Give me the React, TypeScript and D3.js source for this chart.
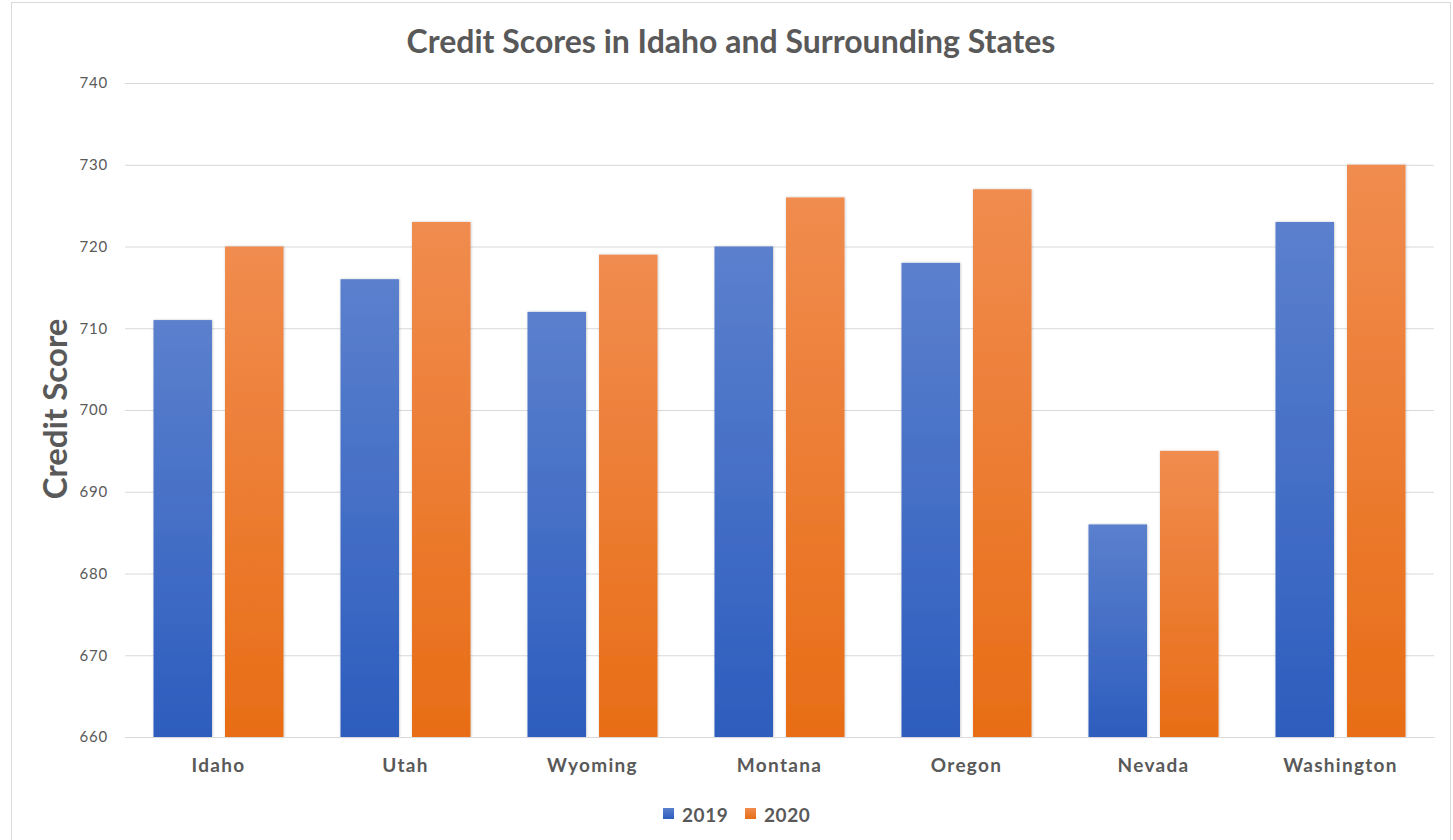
import { useRef, useEffect } from "react";
import { select, scaleBand, scaleLinear, axisLeft, axisBottom } from "d3";

const states = ["Idaho", "Utah", "Wyoming", "Montana", "Oregon", "Nevada", "Washington"];
const years = ["2019", "2020"];
const scores2019 = [711, 716, 712, 720, 718, 686, 723];
const scores2020 = [720, 723, 719, 726, 727, 695, 730];
const yTicks = [660, 670, 680, 690, 700, 710, 720, 730, 740];
const colors = [
  { top: "#5b80cd", bottom: "#2d5dbe" },
  { top: "#f08c4f", bottom: "#e86d16" },
];

const W = 1453;
const H = 840;
const left = 125;
const right = 1434;
const top = 83;
const bottom = 737;
const FONT = "Lato, 'Open Sans', sans-serif";

export default function App() {
  const svgRef = useRef<SVGSVGElement>(null);

  useEffect(() => {
    const svg = select(svgRef.current);
    svg.selectAll("*").remove();

    const x0 = scaleBand().domain(states).range([left, right]).padding(0);
    const groupW = 130;
    const x1 = scaleBand()
      .domain(years)
      .range([0, groupW])
      .paddingInner(0.182)
      .paddingOuter(0);
    const y = scaleLinear().domain([660, 740]).range([bottom, top]);

    const defs = svg.append("defs");
    colors.forEach((c, i) => {
      const g = defs
        .append("linearGradient")
        .attr("id", "grad" + i)
        .attr("x1", 0)
        .attr("y1", 0)
        .attr("x2", 0)
        .attr("y2", 1);
      g.append("stop").attr("offset", "0%").attr("stop-color", c.top);
      g.append("stop").attr("offset", "100%").attr("stop-color", c.bottom);
    });
    const f = defs.append("filter").attr("id", "shadow").attr("x", "-20%").attr("width", "140%");
    f.append("feDropShadow")
      .attr("dx", 0.5)
      .attr("dy", 0)
      .attr("stdDeviation", 1.2)
      .attr("flood-color", "#000")
      .attr("flood-opacity", 0.25);

    // chart frame
    svg
      .append("rect")
      .attr("x", 11.5)
      .attr("y", 2.5)
      .attr("width", 1439)
      .attr("height", 850)
      .attr("fill", "#fff")
      .attr("stroke", "#d9d9d9");

    // gridlines + y axis labels
    const yAxis = axisLeft(y)
      .tickValues(yTicks)
      .tickSize(-(right - left))
      .tickPadding(17);
    const gy = svg.append("g").attr("transform", `translate(${left},0)`).call(yAxis);
    gy.select(".domain").remove();
    gy.selectAll(".tick line").attr("stroke", "#d9d9d9").attr("stroke-width", 1);
    gy.selectAll(".tick text")
      .attr("fill", "#595959")
      .style("font-family", FONT)
      .style("font-size", "15px")
      .style("letter-spacing", "0.8px");

    // bars
    const series = [scores2019, scores2020];
    const offset = (x0.bandwidth() - groupW) / 2;
    series.forEach((vals, si) => {
      svg
        .append("g")
        .selectAll("rect")
        .data(vals)
        .join("rect")
        .attr("x", (d, i) => (x0(states[i]) as number) + offset + (x1(years[si]) as number))
        .attr("y", (d) => y(d))
        .attr("width", x1.bandwidth())
        .attr("height", (d) => bottom - y(d))
        .attr("fill", `url(#grad${si})`)
        .attr("filter", "url(#shadow)");
    });

    // x axis labels
    const xAxis = axisBottom(x0).tickSize(0).tickPadding(22);
    const gx = svg.append("g").attr("transform", `translate(0,${bottom})`).call(xAxis);
    gx.select(".domain").attr("stroke", "#d9d9d9");
    gx.selectAll(".tick text")
      .attr("fill", "#595959")
      .style("font-family", FONT)
      .style("font-size", "19px")
      .style("font-weight", "bold")
      .style("letter-spacing", "1.3px");

    // title
    svg
      .append("text")
      .attr("x", 731)
      .attr("y", 53)
      .attr("text-anchor", "middle")
      .attr("fill", "#595959")
      .style("font-family", FONT)
      .style("font-size", "32px")
      .style("font-weight", "bold")
      .text("Credit Scores in Idaho and Surrounding States");

    // y axis title
    svg
      .append("text")
      .attr("transform", `translate(67,409) rotate(-90)`)
      .attr("text-anchor", "middle")
      .attr("fill", "#595959")
      .style("font-family", FONT)
      .style("font-size", "33px")
      .style("font-weight", "bold")
      .text("Credit Score");

    // legend
    const legend = svg.append("g").attr("transform", "translate(663,814)");
    years.forEach((yr, i) => {
      const g = legend.append("g").attr("transform", `translate(${i * 82},0)`);
      g.append("rect")
        .attr("x", 0)
        .attr("y", -6)
        .attr("width", 11)
        .attr("height", 11)
        .attr("fill", `url(#grad${i})`);
      g.append("text")
        .attr("x", 19)
        .attr("y", 0)
        .attr("dominant-baseline", "central")
        .attr("fill", "#595959")
        .style("font-family", FONT)
        .style("font-size", "19px")
        .style("font-weight", "bold")
        .style("letter-spacing", "0.6px")
        .text(yr);
    });
  }, []);

  return (
    <svg
      ref={svgRef}
      width={W}
      height={H}
      style={{ position: "absolute", left: 0, top: 0 }}
    />
  );
}
